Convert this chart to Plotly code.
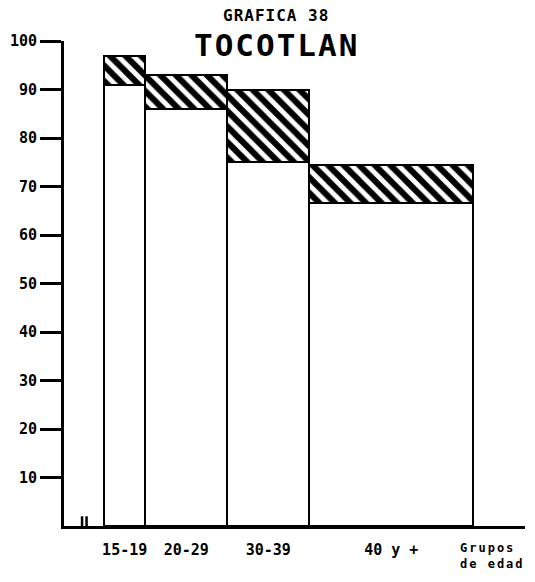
import plotly.graph_objects as go

# Age groups (years) drawn as variable-width bars
groups = ["15-19", "20-29", "30-39", "40 y +"]
group_start = [15, 20, 30, 40]
group_end = [20, 30, 40, 60]

# Percentages: lower (plain) segment and the hatched increment stacked on top
plain_pct = [91, 86, 75, 66.5]
hatched_pct = [6, 7, 15, 8]

y_ticks = [10, 20, 30, 40, 50, 60, 70, 80, 90, 100]

mid = [(a + b) / 2 for a, b in zip(group_start, group_end)]
widths = [b - a for a, b in zip(group_start, group_end)]

MONO = "DejaVu Sans Mono"

fig = go.Figure()
fig.add_trace(go.Bar(
    x=mid, y=plain_pct, width=widths,
    marker=dict(color="white", line=dict(color="black", width=2.5)),
    showlegend=False, hoverinfo="skip",
))
fig.add_trace(go.Bar(
    x=mid, y=hatched_pct, width=widths,
    marker=dict(
        color="white",
        line=dict(color="black", width=2.5),
        pattern=dict(shape="\\", fgcolor="black", bgcolor="white",
                     fgopacity=1, size=11, solidity=0.55),
    ),
    showlegend=False, hoverinfo="skip",
))

# axis break marks near the origin
for xb in (12.3, 12.85):
    fig.add_shape(type="line", xref="x", yref="y", x0=xb, x1=xb, y0=-2.2, y1=2.0,
                  line=dict(color="black", width=2.5))

# heading: small line above, large name below
fig.add_annotation(
    text="<b><span style='letter-spacing:1px'>GRAFICA 38</span></b>",
    xref="paper", yref="paper", x=0.46, y=1.0, xanchor="center", yanchor="bottom",
    yshift=15, borderpad=0, showarrow=False,
    font=dict(family=MONO, size=16, color="black"),
)
fig.add_annotation(
    text="<b><span style='letter-spacing:2px'>TOCOTLAN</span></b>",
    xref="paper", yref="paper", x=0.46, y=1.0, xanchor="center", yanchor="top",
    yshift=15, borderpad=0, showarrow=False,
    font=dict(family=MONO, size=31, color="black"),
)
fig.add_annotation(
    text="<b><span style='letter-spacing:2px'>Grupos<br>de edad</span></b>",
    xref="paper", yref="paper", x=0.855, y=-0.061, xanchor="left", yanchor="middle",
    align="left", showarrow=False, font=dict(family=MONO, size=12, color="black"),
)

fig.update_layout(
    width=535, height=582,
    margin=dict(l=62, r=10, t=41, b=56),
    paper_bgcolor="white", plot_bgcolor="white",
    barmode="stack", bargap=0,
    xaxis=dict(
        range=[10.1, 66.3], showgrid=False, zeroline=False,
        showline=True, linecolor="black", linewidth=3,
        tickmode="array", tickvals=mid, ticktext=[f"<b>{g}</b>" for g in groups],
        ticks="", ticklabelstandoff=8,
        tickfont=dict(family=MONO, size=15, color="black"),
    ),
    yaxis=dict(
        range=[0, 100], showgrid=False, zeroline=False,
        showline=True, linecolor="black", linewidth=3,
        tickmode="array", tickvals=y_ticks, ticktext=[f"<b>{v}</b>" for v in y_ticks],
        ticks="outside", ticklen=21, tickwidth=3, tickcolor="black",
        tickfont=dict(family=MONO, size=15, color="black"),
    ),
)

fig.write_html("out.html")
